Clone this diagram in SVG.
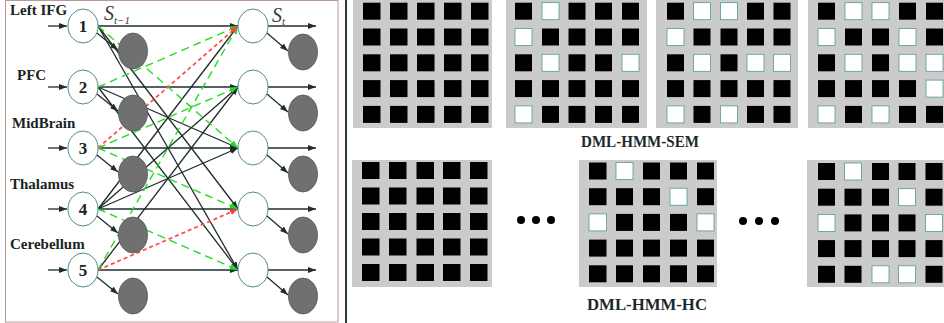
<svg xmlns="http://www.w3.org/2000/svg" width="944" height="323" viewBox="0 0 944 323">
<defs>
<style>
.lbl{font-family:"Liberation Serif","Times New Roman",serif;font-weight:bold;font-size:15px;fill:#1a2424}
.num{font-family:"Liberation Serif","Times New Roman",serif;font-weight:bold;font-size:17px;fill:#1a2424;text-anchor:middle}
.st{font-family:"Liberation Serif","Times New Roman",serif;font-style:italic;font-size:20px;fill:#3a3a3a}
.sub{font-size:11px}
.node{fill:#ffffff;stroke:#4f8a8a;stroke-width:1}
.obs{fill:#707070;stroke:#505858;stroke-width:0.8}
.blk{stroke:#1e2c2c;stroke-width:1.3;fill:none}
.grn{stroke:#22dd22;stroke-width:1.4;stroke-dasharray:8 5;fill:none}
.red{stroke:#ff5050;stroke-width:1.8;stroke-dasharray:4 3;fill:none}
.bg{fill:#cbcbcb}
.b{fill:#000000}
.w{fill:#ffffff;stroke:#4f9a9a;stroke-width:0.8}
.cap{font-family:"Liberation Serif","Times New Roman",serif;font-weight:bold;font-size:16px;fill:#1a2a2a;text-anchor:middle}
</style>
<marker id="ab" markerUnits="userSpaceOnUse" markerWidth="8" markerHeight="6" refX="8" refY="3" orient="auto"><path d="M0,0 L8,3 L0,6 z" fill="#1e2c2c"/></marker>
<marker id="ag" markerUnits="userSpaceOnUse" markerWidth="8" markerHeight="6" refX="8" refY="3" orient="auto"><path d="M0,0 L8,3 L0,6 z" fill="#22dd22"/></marker>
<marker id="ar" markerUnits="userSpaceOnUse" markerWidth="8" markerHeight="6" refX="8" refY="3" orient="auto"><path d="M0,0 L8,3 L0,6 z" fill="#ff4040"/></marker>
</defs>
<rect x="0" y="0" width="944" height="323" fill="#ffffff"/>
<rect x="5.5" y="0.5" width="332.5" height="321.5" fill="none" stroke="#b89a9a" stroke-width="1"/>
<line x1="346" y1="0" x2="346" y2="323" stroke="#303838" stroke-width="2"/>

<g id="connectors">
<!-- inputs -->
<line class="blk" x1="48" y1="26" x2="67" y2="26" marker-end="url(#ab)"/>
<line class="blk" x1="48" y1="87" x2="67" y2="87" marker-end="url(#ab)"/>
<line class="blk" x1="48" y1="148" x2="67" y2="148" marker-end="url(#ab)"/>
<line class="blk" x1="48" y1="209" x2="67" y2="209" marker-end="url(#ab)"/>
<line class="blk" x1="48" y1="270" x2="67" y2="270" marker-end="url(#ab)"/>
<!-- to observations left -->
<line class="blk" x1="97" y1="33" x2="118" y2="50" marker-end="url(#ab)"/>
<line class="blk" x1="97" y1="94" x2="118" y2="111" marker-end="url(#ab)"/>
<line class="blk" x1="97" y1="155" x2="118" y2="172" marker-end="url(#ab)"/>
<line class="blk" x1="97" y1="216" x2="118" y2="233" marker-end="url(#ab)"/>
<line class="blk" x1="97" y1="277" x2="118" y2="294" marker-end="url(#ab)"/>
<!-- right outputs -->
<line class="blk" x1="268" y1="26" x2="316" y2="26" marker-end="url(#ab)"/>
<line class="blk" x1="268" y1="87" x2="316" y2="87" marker-end="url(#ab)"/>
<line class="blk" x1="268" y1="148" x2="316" y2="148" marker-end="url(#ab)"/>
<line class="blk" x1="268" y1="209" x2="316" y2="209" marker-end="url(#ab)"/>
<line class="blk" x1="268" y1="270" x2="316" y2="270" marker-end="url(#ab)"/>
<line class="blk" x1="267" y1="33" x2="288" y2="51" marker-end="url(#ab)"/>
<line class="blk" x1="267" y1="94" x2="288" y2="112" marker-end="url(#ab)"/>
<line class="blk" x1="267" y1="155" x2="288" y2="173" marker-end="url(#ab)"/>
<line class="blk" x1="267" y1="216" x2="288" y2="234" marker-end="url(#ab)"/>
<line class="blk" x1="267" y1="277" x2="288" y2="295" marker-end="url(#ab)"/>
<!-- transitions black -->
<line class="blk" x1="98" y1="26" x2="238" y2="26" marker-end="url(#ab)"/>
<line class="blk" x1="98" y1="87" x2="238" y2="87" marker-end="url(#ab)"/>
<line class="blk" x1="98" y1="148" x2="238" y2="148" marker-end="url(#ab)"/>
<line class="blk" x1="98" y1="209" x2="238" y2="209" marker-end="url(#ab)"/>
<line class="blk" x1="98" y1="270" x2="238" y2="270" marker-end="url(#ab)"/>
<line class="blk" x1="98" y1="26" x2="238" y2="209" marker-end="url(#ab)"/>
<line class="blk" x1="98" y1="26" x2="238" y2="270" marker-end="url(#ab)"/>
<line class="blk" x1="98" y1="87" x2="238" y2="148" marker-end="url(#ab)"/>
<line class="blk" x1="98" y1="87" x2="238" y2="270" marker-end="url(#ab)"/>
<line class="blk" x1="98" y1="209" x2="238" y2="26" marker-end="url(#ab)"/>
<line class="blk" x1="98" y1="209" x2="238" y2="87" marker-end="url(#ab)"/>
<line class="blk" x1="98" y1="209" x2="238" y2="148" marker-end="url(#ab)"/>
<line class="blk" x1="98" y1="270" x2="238" y2="87" marker-end="url(#ab)"/>
<!-- green dashed -->
<line class="grn" x1="98" y1="26" x2="238" y2="148" marker-end="url(#ag)"/>
<line class="grn" x1="98" y1="87" x2="238" y2="26" marker-end="url(#ag)"/>
<line class="grn" x1="98" y1="148" x2="238" y2="87" marker-end="url(#ag)"/>
<line class="grn" x1="98" y1="148" x2="238" y2="209" marker-end="url(#ag)"/>
<line class="grn" x1="98" y1="209" x2="238" y2="270" marker-end="url(#ag)"/>
<line class="grn" x1="98" y1="270" x2="238" y2="26" marker-end="url(#ag)"/>
<!-- red dashed -->
<line class="red" x1="98" y1="148" x2="238" y2="26" marker-end="url(#ar)"/>
<line class="red" x1="98" y1="270" x2="238" y2="209" marker-end="url(#ar)"/>
</g>

<g id="n1"><ellipse class="node" cx="83" cy="26" rx="15" ry="17"/><text class="num" x="83" y="32">1</text><text class="lbl" x="10" y="15">Left IFG</text></g>
<g id="n2"><ellipse class="node" cx="83" cy="87" rx="15" ry="17"/><text class="num" x="83" y="93">2</text><text class="lbl" x="17" y="80">PFC</text></g>
<g id="n3"><ellipse class="node" cx="83" cy="148" rx="15" ry="17"/><text class="num" x="83" y="154">3</text><text class="lbl" x="12" y="128">MidBrain</text></g>
<g id="n4"><ellipse class="node" cx="83" cy="209" rx="15" ry="17"/><text class="num" x="83" y="215">4</text><text class="lbl" x="10" y="189">Thalamus</text></g>
<g id="n5"><ellipse class="node" cx="83" cy="270" rx="15" ry="17"/><text class="num" x="83" y="276">5</text><text class="lbl" x="10" y="249">Cerebellum</text></g>
<g id="o1"><ellipse class="obs" cx="133" cy="51" rx="14.5" ry="18"/></g>
<g id="o2"><ellipse class="obs" cx="133" cy="113" rx="14.5" ry="18"/></g>
<g id="o3"><ellipse class="obs" cx="133" cy="174" rx="14.5" ry="18"/></g>
<g id="o4"><ellipse class="obs" cx="133" cy="235" rx="14.5" ry="18"/></g>
<g id="o5"><ellipse class="obs" cx="133" cy="296" rx="14.5" ry="18"/></g>
<g id="r1"><ellipse class="node" cx="253" cy="26" rx="15" ry="17"/></g>
<g id="r2"><ellipse class="node" cx="253" cy="87" rx="15" ry="17"/></g>
<g id="r3"><ellipse class="node" cx="253" cy="148" rx="15" ry="17"/></g>
<g id="r4"><ellipse class="node" cx="253" cy="209" rx="15" ry="17"/></g>
<g id="r5"><ellipse class="node" cx="253" cy="270" rx="15" ry="17"/></g>
<g id="q1"><ellipse class="obs" cx="303" cy="52" rx="14.5" ry="18"/></g>
<g id="q2"><ellipse class="obs" cx="303" cy="113" rx="14.5" ry="18"/></g>
<g id="q3"><ellipse class="obs" cx="303" cy="174" rx="14.5" ry="18"/></g>
<g id="q4"><ellipse class="obs" cx="303" cy="235" rx="14.5" ry="18"/></g>
<g id="q5"><ellipse class="obs" cx="303" cy="296" rx="14.5" ry="18"/></g>
<g id="labels-s">
<text class="st" x="104" y="20">S<tspan class="sub" dy="4">t−1</tspan></text>
<text class="st" x="272" y="22">S<tspan class="sub" dy="3">t</tspan></text>
</g>

<g id="grid1">
<rect class="bg" x="353" y="0" width="139" height="128"/>
<g transform="translate(363,2.7)">
<rect class="b" x="0" y="0" width="17.5" height="17"/><rect class="b" x="27" y="0" width="17.5" height="17"/><rect class="b" x="54" y="0" width="17.5" height="17"/><rect class="b" x="81" y="0" width="17.5" height="17"/><rect class="b" x="108" y="0" width="17.5" height="17"/>
<rect class="b" x="0" y="25.8" width="17.5" height="17"/><rect class="b" x="27" y="25.8" width="17.5" height="17"/><rect class="b" x="54" y="25.8" width="17.5" height="17"/><rect class="b" x="81" y="25.8" width="17.5" height="17"/><rect class="b" x="108" y="25.8" width="17.5" height="17"/>
<rect class="b" x="0" y="51.6" width="17.5" height="17"/><rect class="b" x="27" y="51.6" width="17.5" height="17"/><rect class="b" x="54" y="51.6" width="17.5" height="17"/><rect class="b" x="81" y="51.6" width="17.5" height="17"/><rect class="b" x="108" y="51.6" width="17.5" height="17"/>
<rect class="b" x="0" y="77.4" width="17.5" height="17"/><rect class="b" x="27" y="77.4" width="17.5" height="17"/><rect class="b" x="54" y="77.4" width="17.5" height="17"/><rect class="b" x="81" y="77.4" width="17.5" height="17"/><rect class="b" x="108" y="77.4" width="17.5" height="17"/>
<rect class="b" x="0" y="103.2" width="17.5" height="17"/><rect class="b" x="27" y="103.2" width="17.5" height="17"/><rect class="b" x="54" y="103.2" width="17.5" height="17"/><rect class="b" x="81" y="103.2" width="17.5" height="17"/><rect class="b" x="108" y="103.2" width="17.5" height="17"/>
</g>
</g>

<g id="grid2">
<rect class="bg" x="506" y="0" width="141" height="128"/>
<g transform="translate(515,2.7)">
<rect class="b" x="0" y="0" width="17" height="17"/><rect class="w" x="27" y="0" width="17" height="17"/><rect class="b" x="53.5" y="0" width="17" height="17"/><rect class="b" x="80" y="0" width="17" height="17"/><rect class="b" x="107" y="0" width="17" height="17"/>
<rect class="w" x="0" y="25.8" width="17" height="17"/><rect class="b" x="27" y="25.8" width="17" height="17"/><rect class="b" x="53.5" y="25.8" width="17" height="17"/><rect class="b" x="80" y="25.8" width="17" height="17"/><rect class="b" x="107" y="25.8" width="17" height="17"/>
<rect class="b" x="0" y="51.6" width="17" height="17"/><rect class="w" x="27" y="51.6" width="17" height="17"/><rect class="b" x="53.5" y="51.6" width="17" height="17"/><rect class="b" x="80" y="51.6" width="17" height="17"/><rect class="w" x="107" y="51.6" width="17" height="17"/>
<rect class="b" x="0" y="77.4" width="17" height="17"/><rect class="b" x="27" y="77.4" width="17" height="17"/><rect class="b" x="53.5" y="77.4" width="17" height="17"/><rect class="b" x="80" y="77.4" width="17" height="17"/><rect class="b" x="107" y="77.4" width="17" height="17"/>
<rect class="w" x="0" y="103.2" width="17" height="17"/><rect class="b" x="27" y="103.2" width="17" height="17"/><rect class="b" x="53.5" y="103.2" width="17" height="17"/><rect class="b" x="80" y="103.2" width="17" height="17"/><rect class="b" x="107" y="103.2" width="17" height="17"/>
</g>
</g>

<g id="grid3">
<rect class="bg" x="656" y="0" width="142" height="128"/>
<g transform="translate(667,2.7)">
<rect class="b" x="0" y="0" width="17" height="17"/><rect class="w" x="26.5" y="0" width="17" height="17"/><rect class="w" x="53.5" y="0" width="17" height="17"/><rect class="b" x="80" y="0" width="17" height="17"/><rect class="b" x="106.5" y="0" width="17" height="17"/>
<rect class="w" x="0" y="25.8" width="17" height="17"/><rect class="b" x="26.5" y="25.8" width="17" height="17"/><rect class="b" x="53.5" y="25.8" width="17" height="17"/><rect class="b" x="80" y="25.8" width="17" height="17"/><rect class="b" x="106.5" y="25.8" width="17" height="17"/>
<rect class="b" x="0" y="51.6" width="17" height="17"/><rect class="w" x="26.5" y="51.6" width="17" height="17"/><rect class="b" x="53.5" y="51.6" width="17" height="17"/><rect class="w" x="80" y="51.6" width="17" height="17"/><rect class="w" x="106.5" y="51.6" width="17" height="17"/>
<rect class="b" x="0" y="77.4" width="17" height="17"/><rect class="b" x="26.5" y="77.4" width="17" height="17"/><rect class="b" x="53.5" y="77.4" width="17" height="17"/><rect class="b" x="80" y="77.4" width="17" height="17"/><rect class="b" x="106.5" y="77.4" width="17" height="17"/>
<rect class="w" x="0" y="103.2" width="17" height="17"/><rect class="b" x="26.5" y="103.2" width="17" height="17"/><rect class="w" x="53.5" y="103.2" width="17" height="17"/><rect class="b" x="80" y="103.2" width="17" height="17"/><rect class="b" x="106.5" y="103.2" width="17" height="17"/>
</g>
</g>

<g id="grid4">
<rect class="bg" x="808" y="0" width="136" height="128"/>
<g transform="translate(818,2.7)">
<rect class="b" x="0" y="0" width="17" height="17"/><rect class="w" x="27" y="0" width="17" height="17"/><rect class="w" x="54" y="0" width="17" height="17"/><rect class="b" x="81" y="0" width="17" height="17"/><rect class="b" x="108" y="0" width="17" height="17"/>
<rect class="w" x="0" y="25.8" width="17" height="17"/><rect class="b" x="27" y="25.8" width="17" height="17"/><rect class="b" x="54" y="25.8" width="17" height="17"/><rect class="w" x="81" y="25.8" width="17" height="17"/><rect class="b" x="108" y="25.8" width="17" height="17"/>
<rect class="b" x="0" y="51.6" width="17" height="17"/><rect class="w" x="27" y="51.6" width="17" height="17"/><rect class="b" x="54" y="51.6" width="17" height="17"/><rect class="w" x="81" y="51.6" width="17" height="17"/><rect class="w" x="108" y="51.6" width="17" height="17"/>
<rect class="b" x="0" y="77.4" width="17" height="17"/><rect class="b" x="27" y="77.4" width="17" height="17"/><rect class="b" x="54" y="77.4" width="17" height="17"/><rect class="b" x="81" y="77.4" width="17" height="17"/><rect class="w" x="108" y="77.4" width="17" height="17"/>
<rect class="w" x="0" y="103.2" width="17" height="17"/><rect class="b" x="27" y="103.2" width="17" height="17"/><rect class="w" x="54" y="103.2" width="17" height="17"/><rect class="b" x="81" y="103.2" width="17" height="17"/><rect class="b" x="108" y="103.2" width="17" height="17"/>
</g>
</g>

<text class="cap" x="640" y="147" textLength="118" lengthAdjust="spacingAndGlyphs">DML-HMM-SEM</text>

<g id="grid5">
<rect class="bg" x="352" y="160" width="140" height="127"/>
<g transform="translate(362,162)">
<rect class="b" x="0" y="0" width="17.5" height="17"/><rect class="b" x="27" y="0" width="17.5" height="17"/><rect class="b" x="54.5" y="0" width="17.5" height="17"/><rect class="b" x="81" y="0" width="17.5" height="17"/><rect class="b" x="108" y="0" width="17.5" height="17"/>
<rect class="b" x="0" y="25.5" width="17.5" height="17"/><rect class="b" x="27" y="25.5" width="17.5" height="17"/><rect class="b" x="54.5" y="25.5" width="17.5" height="17"/><rect class="b" x="81" y="25.5" width="17.5" height="17"/><rect class="b" x="108" y="25.5" width="17.5" height="17"/>
<rect class="b" x="0" y="51" width="17.5" height="17"/><rect class="b" x="27" y="51" width="17.5" height="17"/><rect class="b" x="54.5" y="51" width="17.5" height="17"/><rect class="b" x="81" y="51" width="17.5" height="17"/><rect class="b" x="108" y="51" width="17.5" height="17"/>
<rect class="b" x="0" y="76.5" width="17.5" height="17"/><rect class="b" x="27" y="76.5" width="17.5" height="17"/><rect class="b" x="54.5" y="76.5" width="17.5" height="17"/><rect class="b" x="81" y="76.5" width="17.5" height="17"/><rect class="b" x="108" y="76.5" width="17.5" height="17"/>
<rect class="b" x="0" y="102" width="17.5" height="17"/><rect class="b" x="27" y="102" width="17.5" height="17"/><rect class="b" x="54.5" y="102" width="17.5" height="17"/><rect class="b" x="81" y="102" width="17.5" height="17"/><rect class="b" x="108" y="102" width="17.5" height="17"/>
</g>
</g>

<g id="dots1" fill="#000">
<circle cx="521" cy="220" r="4"/><circle cx="536" cy="220" r="4"/><circle cx="551" cy="220" r="4"/>
</g>

<g id="grid6">
<rect class="bg" x="579" y="160" width="138" height="127"/>
<g transform="translate(589,162.5)">
<rect class="b" x="0" y="0" width="17.5" height="17"/><rect class="w" x="27" y="0" width="17" height="17"/><rect class="b" x="54" y="0" width="17" height="17"/><rect class="b" x="81" y="0" width="17" height="17"/><rect class="b" x="108" y="0" width="17" height="17"/>
<rect class="b" x="0" y="25.7" width="17.5" height="17"/><rect class="b" x="27" y="25.7" width="17" height="17"/><rect class="b" x="54" y="25.7" width="17" height="17"/><rect class="w" x="81" y="25.7" width="17" height="17"/><rect class="b" x="108" y="25.7" width="17" height="17"/>
<rect class="w" x="0" y="51.4" width="17.5" height="17"/><rect class="b" x="27" y="51.4" width="17" height="17"/><rect class="b" x="54" y="51.4" width="17" height="17"/><rect class="b" x="81" y="51.4" width="17" height="17"/><rect class="w" x="108" y="51.4" width="17" height="17"/>
<rect class="b" x="0" y="77.1" width="17.5" height="17"/><rect class="b" x="27" y="77.1" width="17" height="17"/><rect class="b" x="54" y="77.1" width="17" height="17"/><rect class="b" x="81" y="77.1" width="17" height="17"/><rect class="b" x="108" y="77.1" width="17" height="17"/>
<rect class="b" x="0" y="102.8" width="17.5" height="17"/><rect class="b" x="27" y="102.8" width="17" height="17"/><rect class="b" x="54" y="102.8" width="17" height="17"/><rect class="b" x="81" y="102.8" width="17" height="17"/><rect class="b" x="108" y="102.8" width="17" height="17"/>
</g>
</g>

<g id="dots2" fill="#000">
<circle cx="743" cy="221" r="4"/><circle cx="759" cy="221" r="4"/><circle cx="775" cy="221" r="4"/>
</g>

<g id="grid7">
<rect class="bg" x="807" y="160" width="137" height="127"/>
<g transform="translate(818,163)">
<rect class="b" x="0" y="0" width="17" height="17"/><rect class="w" x="26.5" y="0" width="17" height="17"/><rect class="b" x="54" y="0" width="17" height="17"/><rect class="b" x="80.5" y="0" width="17" height="17"/><rect class="b" x="107.5" y="0" width="17" height="17"/>
<rect class="b" x="0" y="25.7" width="17" height="17"/><rect class="b" x="26.5" y="25.7" width="17" height="17"/><rect class="b" x="54" y="25.7" width="17" height="17"/><rect class="w" x="80.5" y="25.7" width="17" height="17"/><rect class="b" x="107.5" y="25.7" width="17" height="17"/>
<rect class="w" x="0" y="51.4" width="17" height="17"/><rect class="b" x="26.5" y="51.4" width="17" height="17"/><rect class="b" x="54" y="51.4" width="17" height="17"/><rect class="b" x="80.5" y="51.4" width="17" height="17"/><rect class="w" x="107.5" y="51.4" width="17" height="17"/>
<rect class="b" x="0" y="77.1" width="17" height="17"/><rect class="b" x="26.5" y="77.1" width="17" height="17"/><rect class="b" x="54" y="77.1" width="17" height="17"/><rect class="b" x="80.5" y="77.1" width="17" height="17"/><rect class="b" x="107.5" y="77.1" width="17" height="17"/>
<rect class="b" x="0" y="102.8" width="17" height="17"/><rect class="b" x="26.5" y="102.8" width="17" height="17"/><rect class="w" x="54" y="102.8" width="17" height="17"/><rect class="w" x="80.5" y="102.8" width="17" height="17"/><rect class="b" x="107.5" y="102.8" width="17" height="17"/>
</g>
</g>

<text class="cap" x="647" y="310" textLength="120" lengthAdjust="spacingAndGlyphs">DML-HMM-HC</text>
</svg>
